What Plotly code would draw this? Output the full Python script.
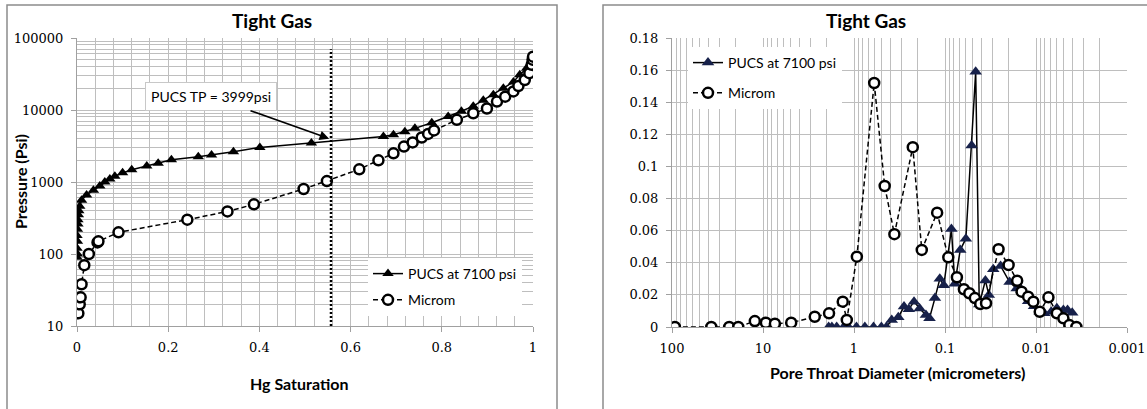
import math
import plotly.graph_objects as go

W, H = 1147, 409

# ---------------- data: left chart (capillary pressure) ----------------
pucs_sat = [0.0, 0.001, 0.0, 0.001, 0.0, 0.001, 0.002, 0.002, 0.003, 0.004, 0.006,
            0.010, 0.021, 0.036, 0.050, 0.061, 0.072, 0.083, 0.100, 0.120, 0.153,
            0.178, 0.207, 0.266, 0.295, 0.343, 0.401, 0.514, 0.672, 0.694, 0.719,
            0.741, 0.778, 0.814, 0.843, 0.869, 0.891, 0.913, 0.935, 0.957, 0.971,
            0.986, 0.997, 1.0]
pucs_p = [90, 100, 120, 150, 180, 220, 260, 300, 350, 400, 460,
          560, 660, 770, 880, 1000, 1100, 1200, 1340, 1480, 1670,
          1820, 2030, 2240, 2370, 2640, 3020, 3480, 4270, 4530, 5000,
          5560, 6660, 8100, 9600, 11300, 13700, 16300, 20000, 24500, 30800,
          38000, 47000, 57000]

microm_sat = [0.003, 0.006, 0.008, 0.010, 0.016, 0.026, 0.045, 0.047, 0.091, 0.242,
              0.330, 0.388, 0.497, 0.548, 0.619, 0.661, 0.694, 0.717, 0.736, 0.756,
              0.770, 0.783, 0.833, 0.869, 0.899, 0.921, 0.939, 0.957, 0.968, 0.982,
              0.992, 0.997, 0.999, 1.0]
microm_p = [15, 20, 25, 38, 70, 100, 145, 150, 200, 300,
            390, 490, 800, 1030, 1500, 2000, 2500, 3100, 3550, 4150,
            4650, 5200, 7300, 9000, 10500, 13100, 15300, 18100, 21500, 26000,
            32500, 42500, 50000, 55000]

tp_saturation = 0.557
tp_pressure = 3999
tp_line_p = [10, 70000]

sat_ticks = [0, 0.2, 0.4, 0.6, 0.8, 1.0]
sat_labels = ["0", "0.2", "0.4", "0.6", "0.8", "1"]
p_ticks = [10, 100, 1000, 10000, 100000]
p_labels = ["10", "100", "1000", "10000", "100000"]

# ---------------- data: right chart (pore throat distribution) ----------------
microm_d = [93, 37, 23.5, 18.7, 12.3, 9.3, 7.4, 4.9, 2.7, 1.88, 1.33, 1.2, 0.93,
            0.60, 0.46, 0.36, 0.226, 0.18, 0.122, 0.092, 0.074, 0.062, 0.054, 0.047,
            0.041, 0.0354, 0.0258, 0.020, 0.0161, 0.0144, 0.0122, 0.0107, 0.0091,
            0.0073, 0.0059, 0.0050, 0.0043, 0.0036]
microm_v = [0, 0, 0, 0, 0.0037, 0.0027, 0.002, 0.0027, 0.0064, 0.0085, 0.0158, 0.0044, 0.0438,
            0.152, 0.0878, 0.0578, 0.112, 0.048, 0.0712, 0.0434, 0.031, 0.0235, 0.021, 0.018,
            0.0143, 0.0148, 0.0484, 0.0386, 0.0288, 0.022, 0.0189, 0.0158, 0.0095,
            0.0185, 0.0085, 0.0054, 0.0012, 0.0]

pucs_d = [1.9, 1.75, 1.55, 1.3, 1.15, 0.94, 0.76, 0.61, 0.50, 0.44,
          0.385, 0.326, 0.282, 0.25, 0.219, 0.19, 0.162, 0.148, 0.129, 0.114,
          0.103, 0.085, 0.078, 0.068, 0.059, 0.051, 0.046, 0.042, 0.036, 0.033,
          0.0295, 0.0245, 0.0195, 0.0163, 0.0144, 0.0122, 0.0105, 0.0091, 0.0081,
          0.0068, 0.0059, 0.0050, 0.0045, 0.0040]
pucs_v = [0, 0, 0, 0, 0, 0, 0, 0, 0, 0,
          0.0044, 0.006, 0.0127, 0.011, 0.0158, 0.0115, 0.0075, 0.0055, 0.018, 0.030,
          0.026, 0.061, 0.027, 0.048, 0.055, 0.113, 0.159, 0.014, 0.029, 0.020,
          0.036, 0.038, 0.028, 0.024, 0.023, 0.016, 0.013, 0.0095, 0.0085,
          0.0095, 0.0117, 0.0106, 0.0106, 0.0089]

d_ticks = [100, 10, 1, 0.1, 0.01, 0.001]
d_labels = ["100", "10", "1", "0.1", "0.01", "0.001"]
v_ticks = [0, 0.02, 0.04, 0.06, 0.08, 0.1, 0.12, 0.14, 0.16, 0.18]
v_labels = ["0", "0.02", "0.04", "0.06", "0.08", "0.1", "0.12", "0.14", "0.16", "0.18"]

# ---------------- styling ----------------
GRID = "#BEBEBE"
TICKFONT = dict(family="DejaVu Serif", size=13, color="black")
SANS = "Lato"
NAVY = "#17214A"

fig = go.Figure()

fig.add_trace(go.Scatter(
    x=pucs_sat, y=pucs_p, mode="lines+markers", name="PUCS at 7100 psi",
    line=dict(color="black", width=1.5),
    marker=dict(symbol="triangle-up", size=10, color="black"),
    xaxis="x", yaxis="y", legend="legend", legendgroup="l1"))
fig.add_trace(go.Scatter(
    x=microm_sat, y=microm_p, mode="lines+markers", name="Microm",
    line=dict(color="black", width=1.5, dash="5px,3px"),
    marker=dict(symbol="circle", size=10, color="white", line=dict(color="black", width=2.5)),
    xaxis="x", yaxis="y", legend="legend", legendgroup="l2"))
fig.add_trace(go.Scatter(
    x=[tp_saturation, tp_saturation], y=tp_line_p, mode="lines",
    line=dict(color="black", width=2.5, dash="2px,2px"),
    showlegend=False, hoverinfo="skip", xaxis="x", yaxis="y"))

fig.add_trace(go.Scatter(
    x=pucs_d, y=pucs_v, mode="lines+markers", name="PUCS at 7100 psi",
    line=dict(color="black", width=1.5),
    marker=dict(symbol="triangle-up", size=11, color=NAVY),
    xaxis="x2", yaxis="y2", legend="legend2", legendgroup="r1"))
fig.add_trace(go.Scatter(
    x=microm_d, y=microm_v, mode="lines+markers", name="Microm",
    line=dict(color="black", width=1.5, dash="5px,3px"),
    marker=dict(symbol="circle", size=10, color="white", line=dict(color="black", width=2.5)),
    xaxis="x2", yaxis="y2", legend="legend2", legendgroup="r2"))

minor_p = [k * 10 ** e for e in range(1, 5) for k in range(2, 10)]
minor_d = [k * 10.0 ** e for e in range(-3, 2) for k in range(2, 10)]

common_axis = dict(showgrid=True, gridcolor=GRID, gridwidth=1, showline=True,
                   linecolor="#A0A0A0", linewidth=1, ticks="outside", ticklen=5,
                   tickcolor="#A0A0A0", tickfont=TICKFONT, zeroline=False,
                   automargin=False)

fig.update_layout(
    width=W, height=H, margin=dict(l=0, r=0, t=0, b=0, autoexpand=False),
    paper_bgcolor="white", plot_bgcolor="white",
    xaxis=dict(domain=[77 / W, 533 / W], range=[0, 1], anchor="y",
               tickvals=sat_ticks, ticktext=sat_labels, ticklabelstandoff=4,
               minor=dict(dtick=0.04, showgrid=True, gridcolor=GRID, ticks=""),
               **common_axis),
    yaxis=dict(domain=[1 - 326 / H, 1 - 38 / H], type="log", range=[1, 5], anchor="x",
               tickvals=p_ticks, ticktext=p_labels, ticklabelstandoff=5,
               minor=dict(tickvals=minor_p, showgrid=True, gridcolor=GRID, ticks=""),
               **common_axis),
    xaxis2=dict(domain=[672 / W, 1127 / W], type="log", range=[2, -3], anchor="y2",
                tickvals=d_ticks, ticktext=d_labels, ticklabelstandoff=4,
                minor=dict(tickvals=minor_d, showgrid=True, gridcolor=GRID, ticks=""),
                **common_axis),
    yaxis2=dict(domain=[1 - 327 / H, 1 - 38 / H], range=[0, 0.18], anchor="x2",
                tickvals=v_ticks, ticktext=v_labels, ticklabelstandoff=5,
                **common_axis),
    legend=dict(x=368 / W, y=1 - 258 / H, xanchor="left", yanchor="top",
                bgcolor="white", borderwidth=0, tracegroupgap=5,
                font=dict(family=SANS, size=14, color="black")),
    legend2=dict(x=688 / W, y=1 - 47 / H, xanchor="left", yanchor="top",
                 bgcolor="white", borderwidth=0, tracegroupgap=9,
                 font=dict(family=SANS, size=14, color="black")),
    showlegend=True,
)

# outer chart frames
fig.add_shape(type="rect", xref="paper", yref="paper",
              x0=7 / W, x1=557 / W, y0=-0.02, y1=1 - 5 / H,
              line=dict(color="#8C8C8C", width=1.5), fillcolor="rgba(0,0,0,0)", layer="below")
fig.add_shape(type="rect", xref="paper", yref="paper",
              x0=603 / W, x1=1.02, y0=-0.02, y1=1 - 5 / H,
              line=dict(color="#8C8C8C", width=1.5), fillcolor="rgba(0,0,0,0)", layer="below")


def ann(text, x, y, size=16, bold=True, angle=0):
    fig.add_annotation(text=f"<b>{text}</b>" if bold else text, xref="paper", yref="paper",
                       x=x / W, y=1 - y / H, showarrow=False, textangle=angle,
                       xanchor="center", yanchor="middle",
                       font=dict(family=SANS, size=size, color="black"))


ann("Tight Gas", 272, 21, size=19)
ann("Tight Gas", 866, 21, size=19)
ann("Hg Saturation", 299, 383)
ann("Pressure (Psi)", 21, 182, angle=-90)
ann("Pore Throat Diameter (micrometers)", 898, 372)

fig.add_annotation(
    text="PUCS TP = 3999psi", x=tp_saturation - 0.004, y=math.log10(tp_pressure),
    xref="x", yref="y", showarrow=True, arrowhead=2, arrowsize=1.2, arrowwidth=1.6,
    arrowcolor="black", ax=-118, ay=-42, axref="pixel", ayref="pixel",
    bgcolor="white", bordercolor="#C8C8C8", borderwidth=1, borderpad=5,
    font=dict(family=SANS, size=14, color="black"))

fig.write_html(
    "out.html",
    config={"displayModeBar": False},
    post_script="document.body.style.margin='0px';document.body.style.overflow='hidden';",
)
